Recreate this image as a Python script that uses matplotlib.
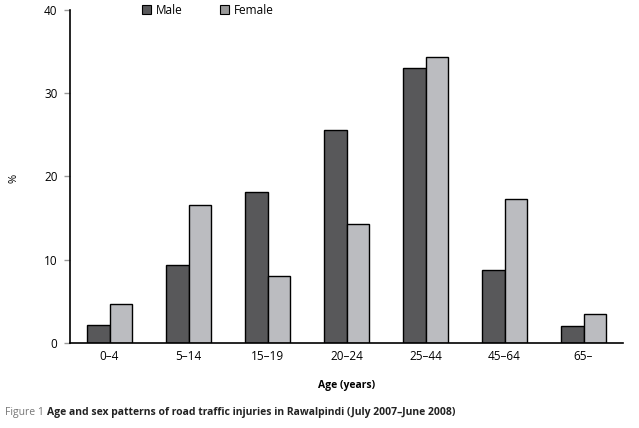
import matplotlib
matplotlib.use("Agg")
import matplotlib.pyplot as plt
import numpy as np
from matplotlib.patches import Patch

categories = ["0–4", "5–14", "15–19", "20–24", "25–44", "45–64", "65–"]
male = [2.2, 9.4, 18.1, 25.6, 33.0, 8.8, 2.0]
female = [4.7, 16.6, 8.0, 14.3, 34.3, 17.3, 3.5]
yticks = [0, 10, 20, 30, 40]

plt.rcParams['font.family'] = ['Open Sans', 'DejaVu Sans']

fig = plt.figure(figsize=(6.39, 4.28), dpi=100)
ax = fig.add_axes([70/639, 1-343/428, (623-70)/639, (343-10)/428])

x = np.arange(len(categories))
w = 0.285
male_c = "#58585a"
female_c = "#bbbcc0"
ax.bar(x - w/2, male, w, color=male_c, edgecolor="black", linewidth=1.0)
ax.bar(x + w/2, female, w, color=female_c, edgecolor="black", linewidth=1.0)

ax.set_xlim(-0.5, len(categories) - 0.5)
ax.set_ylim(0, 40)
ax.set_yticks(yticks)
ax.set_yticklabels([str(t) for t in yticks], fontsize=8.5)
ax.set_xticks(x)
ax.set_xticklabels(categories, fontsize=8.5)
ax.tick_params(axis='x', length=0, pad=5)
ax.tick_params(axis='y', length=4, width=1, color="#999999", pad=5)
for s in ["top", "right"]:
    ax.spines[s].set_visible(False)
ax.spines["left"].set_linewidth(1.2)
ax.spines["bottom"].set_linewidth(1.2)

fig.text(14/639, 1-178/428, "%", fontsize=8, rotation=90, va="center", ha="center")
ax.set_xlabel("Age (years)", fontsize=7.5, fontweight="bold", labelpad=12)

handles = [Patch(facecolor=male_c, edgecolor="black", linewidth=0.8, label="Male"),
           Patch(facecolor="#999999", edgecolor="black", linewidth=0.8, label="Female")]
leg = fig.legend(handles=handles, loc="center left", bbox_to_anchor=(141/639, 1-10/428),
                 ncol=2, frameon=False, fontsize=8.5, handlelength=0.75, handleheight=0.75,
                 handletextpad=0.4, columnspacing=3.2, borderaxespad=0.0, borderpad=0.1)

fig.text(5/639, 1-413/428, "Figure 1", fontsize=7.5, color="#777777", va="center", ha="left")
fig.text(47/639, 1-413/428, "Age and sex patterns of road traffic injuries in Rawalpindi (July 2007–June 2008)",
         fontsize=7.5, fontweight="bold", color="#222222", va="center", ha="left")

fig.savefig("out.png", dpi=100)
